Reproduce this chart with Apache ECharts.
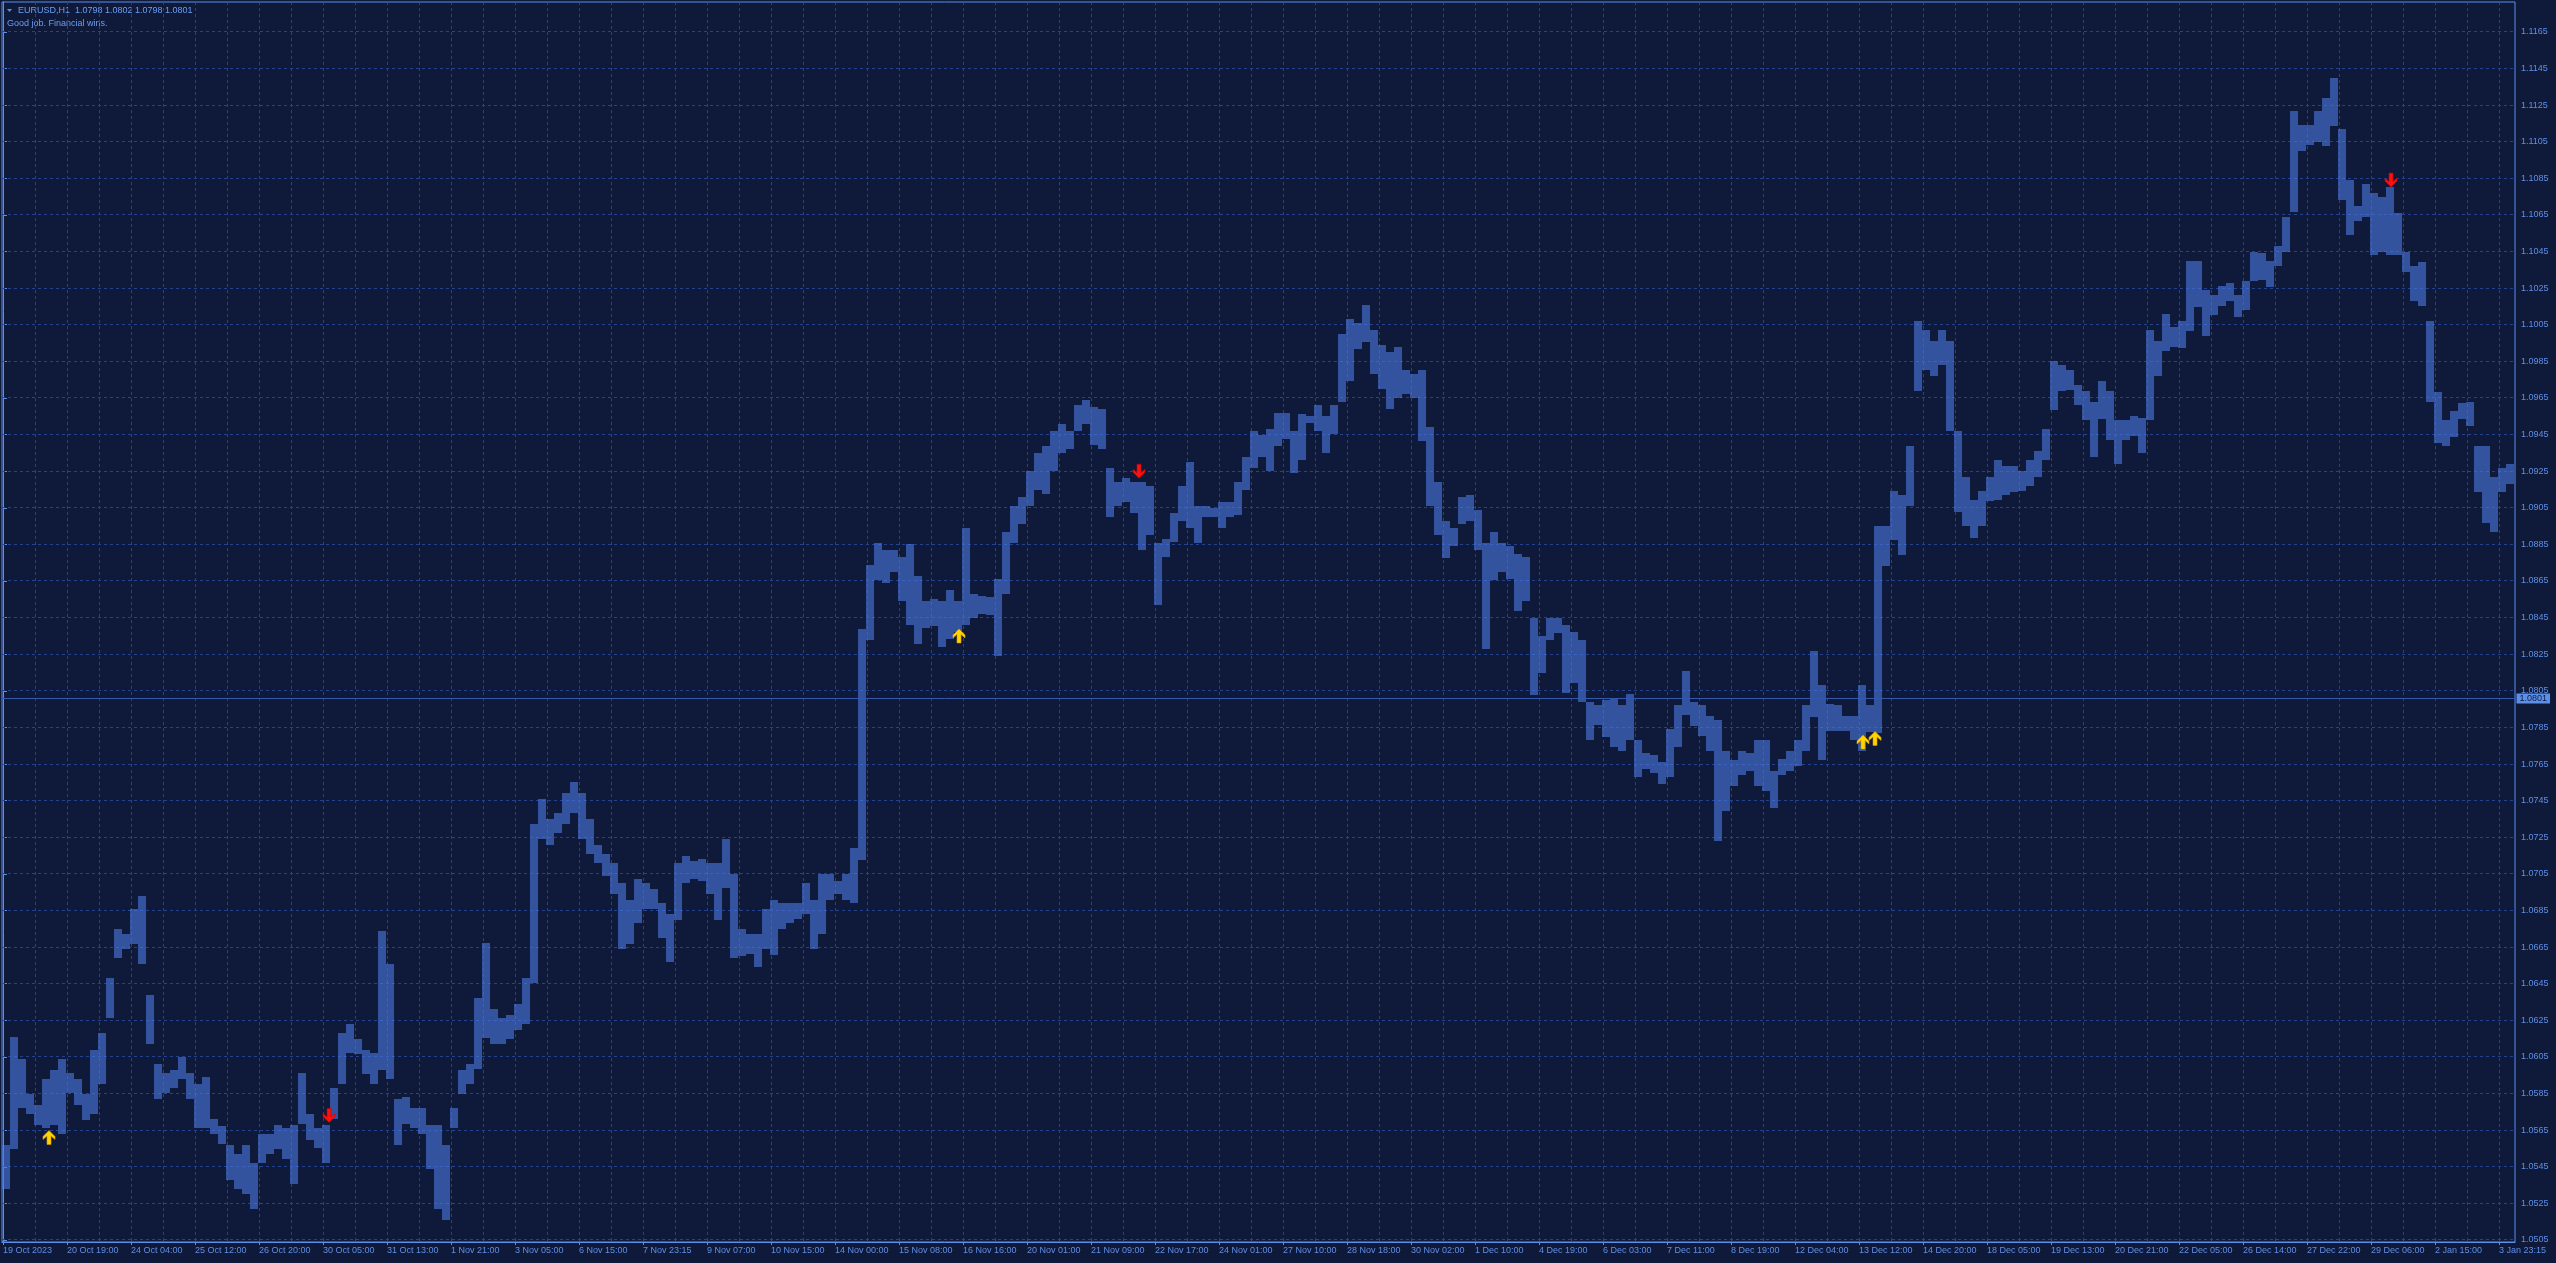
<!DOCTYPE html>
<html>
<head>
<meta charset="utf-8">
<script src="https://cdn.jsdelivr.net/npm/echarts@6/dist/echarts.min.js"></script>
<style>
html,body{margin:0;padding:0;background:#0f1a3a;}
#chart{width:2556px;height:1263px;}
</style>
</head>
<body>
<div id="chart"></div>
<script>
// ---- data (EURUSD H1, each point = 4 hourly bars: high / low) ----
const highs = [
1.0557,1.0616,1.0604,1.0585,1.0579,1.0593,1.0598,1.0604,1.0596,1.0593,
1.0585,1.0609,1.0618,1.0648,1.0675,1.0672,1.0686,1.0693,1.0639,1.0601,
1.0596,1.0598,1.0605,1.0596,1.0590,1.0594,1.0571,1.0567,1.0557,1.0552,
1.0557,1.0547,1.0563,1.0563,1.0568,1.0566,1.0568,1.0596,1.0574,1.0566,
1.0568,1.0588,1.0618,1.0623,1.0615,1.0609,1.0607,1.0674,1.0656,1.0582,
1.0583,1.0577,1.0577,1.0568,1.0568,1.0557,1.0577,1.0598,1.0601,1.0637,
1.0667,1.0631,1.0626,1.0628,1.0634,1.0648,1.0732,1.0746,1.0735,1.0738,
1.0749,1.0755,1.0749,1.0735,1.0721,1.0716,1.0711,1.0700,1.0691,1.0702,
1.0700,1.0697,1.0689,1.0683,1.0711,1.0715,1.0712,1.0713,1.0711,1.0711,
1.0724,1.0705,1.0675,1.0672,1.0672,1.0686,1.0691,1.0689,1.0689,1.0689,
1.0700,1.0691,1.0705,1.0705,1.0701,1.0705,1.0719,
1.0839,1.0874,1.0886,
1.0882,1.0882,1.0878,1.0885,1.0868,1.0854,1.0855,1.0854,1.0860,1.0854,
1.0894,1.0858,1.0857,1.0856,1.0866,1.0892,1.0906,1.0911,1.0925,1.0935,
1.0939,1.0947,1.0951,1.0947,1.0961,1.0964,1.0960,1.0959,1.0927,1.0919,
1.0921,1.0919,1.0919,1.0917,1.0886,1.0888,1.0902,1.0917,1.0930,1.0906,
1.0906,1.0905,1.0908,1.0908,1.0919,1.0933,1.0947,1.0945,1.0948,1.0957,
1.0957,1.0947,1.0956,1.0955,1.0961,1.0955,1.0961,1.1000,1.1008,1.1006,
1.1016,1.1002,1.0994,1.0990,1.0993,1.0980,1.0978,1.0980,1.0949,1.0919,
1.0898,1.0894,1.0911,1.0912,1.0904,1.0886,1.0892,1.0886,1.0884,1.0880,
1.0878,1.0845,1.0835,1.0845,1.0845,1.0841,1.0837,1.0833,1.0799,1.0797,
1.0800,1.0801,1.0797,1.0803,1.0778,1.0771,1.0770,1.0766,1.0784,1.0797,
1.0816,1.0799,1.0797,1.0791,1.0789,1.0772,1.0767,1.0772,1.0771,1.0778,
1.0778,1.0761,1.0768,1.0772,1.0778,1.0797,1.0827,1.0808,1.0798,1.0797,
1.0791,1.0791,1.0808,1.0797,1.0895,1.0895,1.0914,1.0912,1.0939,1.1007,
1.1002,1.0996,1.1002,1.0996,1.0947,1.0922,1.0909,1.0914,1.0922,1.0931,
1.0928,1.0928,1.0925,1.0931,1.0936,1.0948,1.0985,1.0983,1.0980,1.0972,
1.0969,1.0963,1.0974,1.0969,1.0953,1.0953,1.0955,1.0954,1.1002,1.0996,
1.1011,1.1004,1.1007,1.1040,1.1040,1.1024,1.1021,1.1026,1.1028,1.1021,
1.1029,1.1045,1.1044,1.1040,1.1048,1.1064,1.1122,1.1114,1.1114,1.1122,
1.1129,1.1140,1.1112,1.1084,1.1070,1.1082,1.1077,1.1075,1.1080,1.1066,
1.1045,1.1037,1.1039,1.1007,1.0968,1.0953,1.0958,1.0962,1.0963,1.0939,
1.0939,1.0922,1.0927,1.0929
];
const lows = [
1.0533,1.0555,1.0577,1.0574,1.0568,1.0566,1.0568,1.0563,1.0585,1.0579,
1.0571,1.0574,1.0590,1.0626,1.0659,1.0664,1.0667,1.0656,1.0612,1.0582,
1.0585,1.0588,1.0593,1.0582,1.0566,1.0566,1.0563,1.0557,1.0538,1.0533,
1.0530,1.0522,1.0547,1.0552,1.0555,1.0549,1.0536,1.0568,1.0560,1.0555,
1.0547,1.0571,1.0590,1.0607,1.0607,1.0596,1.0590,1.0598,1.0593,1.0557,
1.0568,1.0566,1.0563,1.0544,1.0522,1.0516,1.0566,1.0585,1.0590,1.0598,
1.0615,1.0612,1.0612,1.0615,1.0620,1.0623,1.0645,1.0724,1.0721,1.0727,
1.0732,1.0738,1.0724,1.0716,1.0711,1.0704,1.0694,1.0664,1.0667,1.0678,
1.0686,1.0686,1.0670,1.0657,1.0680,1.0700,1.0702,1.0701,1.0694,1.0680,
1.0697,1.0659,1.0660,1.0661,1.0654,1.0664,1.0661,1.0675,1.0678,1.0680,
1.0683,1.0664,1.0672,1.0691,1.0694,1.0691,1.0689,
1.0713,1.0833,1.0866,
1.0864,1.0870,1.0854,1.0841,1.0831,1.0839,1.0840,1.0829,1.0833,1.0837,
1.0841,1.0845,1.0847,1.0846,1.0824,1.0858,1.0886,1.0896,1.0906,1.0915,
1.0913,1.0925,1.0935,1.0937,1.0947,1.0951,1.0939,1.0937,1.0900,1.0906,
1.0908,1.0902,1.0882,1.0890,1.0852,1.0878,1.0886,1.0898,1.0894,1.0886,
1.0900,1.0900,1.0894,1.0900,1.0901,1.0915,1.0927,1.0933,1.0925,1.0939,
1.0943,1.0924,1.0931,1.0951,1.0947,1.0935,1.0945,1.0963,1.0974,1.0992,
1.0996,1.0978,1.0970,1.0959,1.0965,1.0967,1.0965,1.0941,1.0906,1.0890,
1.0878,1.0884,1.0896,1.0898,1.0882,1.0828,1.0866,1.0870,1.0866,1.0849,
1.0854,1.0803,1.0815,1.0833,1.0837,1.0804,1.0809,1.0799,1.0778,1.0786,
1.0780,1.0774,1.0772,1.0778,1.0758,1.0762,1.0760,1.0754,1.0758,1.0774,
1.0792,1.0786,1.0780,1.0772,1.0723,1.0739,1.0753,1.0759,1.0761,1.0753,
1.0750,1.0741,1.0759,1.0761,1.0764,1.0772,1.0791,1.0767,1.0783,1.0783,
1.0783,1.0778,1.0772,1.0782,1.0782,1.0873,1.0887,1.0879,1.0906,1.0969,
1.0980,1.0977,1.0983,1.0947,1.0903,1.0895,1.0888,1.0895,1.0909,1.0909,
1.0912,1.0914,1.0914,1.0917,1.0922,1.0931,1.0958,1.0969,1.0969,1.0961,
1.0953,1.0933,1.0953,1.0942,1.0929,1.0942,1.0944,1.0935,1.0953,1.0977,
1.0991,1.0993,1.0992,1.1002,1.1015,1.0999,1.1010,1.1015,1.1018,1.1009,
1.1013,1.1029,1.1029,1.1026,1.1037,1.1045,1.1067,1.1100,1.1103,1.1105,
1.1103,1.1114,1.1073,1.1054,1.1062,1.1064,1.1043,1.1045,1.1043,1.1043,
1.1034,1.1018,1.1015,1.0963,1.0940,1.0939,1.0944,1.0953,1.0950,1.0914,
1.0897,1.0892,1.0914,1.0918
];
// signal arrows: [hourly bar index, price]
const arrowsUp = [[23,1.0561],[478,1.0835],[930,1.0777],[936,1.0779]];
const arrowsDown = [[163,1.0573],[568,1.0925],[1194,1.1084]];
// tick labels
const timeLabels = ['19 Oct 2023','20 Oct 19:00','24 Oct 04:00','25 Oct 12:00','26 Oct 20:00','30 Oct 05:00','31 Oct 13:00','1 Nov 21:00','3 Nov 05:00','6 Nov 15:00','7 Nov 23:15','9 Nov 07:00','10 Nov 15:00','14 Nov 00:00','15 Nov 08:00','16 Nov 16:00','20 Nov 01:00','21 Nov 09:00','22 Nov 17:00','24 Nov 01:00','27 Nov 10:00','28 Nov 18:00','30 Nov 02:00','1 Dec 10:00','4 Dec 19:00','6 Dec 03:00','7 Dec 11:00','8 Dec 19:00','12 Dec 04:00','13 Dec 12:00','14 Dec 20:00','18 Dec 05:00','19 Dec 13:00','20 Dec 21:00','22 Dec 05:00','26 Dec 14:00','27 Dec 22:00','29 Dec 06:00','2 Jan 15:00','3 Jan 23:15'];
const priceTicks = [1.0505,1.0525,1.0545,1.0565,1.0585,1.0605,1.0625,1.0645,1.0665,1.0685,1.0705,1.0725,1.0745,1.0765,1.0785,1.0805,1.0825,1.0845,1.0865,1.0885,1.0905,1.0925,1.0945,1.0965,1.0985,1.1005,1.1025,1.1045,1.1065,1.1085,1.1105,1.1125,1.1145,1.1165];
const lastPrice = 1.0801;
const header = 'EURUSD,H1  1.0798 1.0802 1.0798 1.0801';
const subtitle = 'Good job. Financial wins.';

// ---- styles ----
const BG = '#0f1a3a', GRID = '#24428e', AXIS = '#5b8fe8', TXT = '#5f8fe8', BAR = 'rgba(76,122,226,0.6)';
const FONT = '"Liberation Sans", Arial, sans-serif';
const BARS_PER_POINT = 4, BARS_PER_LABEL = 32, BARS_PER_VGRID = 16;

const barData = highs.map((h, i) => [i * BARS_PER_POINT + (BARS_PER_POINT - 1) / 2, lows[i], h]);
const labelBars = timeLabels.map((_, k) => k * BARS_PER_LABEL);
const vGrid = [];
for (let b = BARS_PER_VGRID; b <= labelBars[labelBars.length - 1]; b += BARS_PER_VGRID) vGrid.push(b);
const X_MIN = -0.5, X_MAX = 1256, Y_MIN = 1.05039, Y_MAX = 1.11813;

const chart = echarts.init(document.getElementById('chart'), null, {renderer: 'canvas'});
const crisp = v => Math.round(v - 0.5) + 0.5;
const option = {
  backgroundColor: BG,
  animation: false,
  grid: {left: 2, top: 2, width: 2513, height: 1240, show: true, borderColor: AXIS, borderWidth: 1},
  xAxis: {
    type: 'value', min: X_MIN, max: X_MAX,
    axisLine: {show: true, lineStyle: {color: AXIS}},
    axisTick: {show: true, customValues: labelBars, length: 3, lineStyle: {color: AXIS}},
    axisLabel: {customValues: labelBars, formatter: v => timeLabels[Math.round(v / BARS_PER_LABEL)],
      color: TXT, fontSize: 9, fontFamily: FONT, align: 'left', margin: 4},
    splitLine: {show: false}
  },
  yAxis: {
    type: 'value', position: 'right', min: Y_MIN, max: Y_MAX,
    axisLine: {show: true, lineStyle: {color: AXIS}},
    axisTick: {show: true, customValues: priceTicks, length: 4, lineStyle: {color: AXIS}},
    axisLabel: {customValues: priceTicks, formatter: v => v.toFixed(4), color: TXT, fontSize: 9, fontFamily: FONT, margin: 6},
    splitLine: {show: false}
  },
  graphic: [
    {type: 'polygon', shape: {points: [[7, 9], [12, 9], [9.5, 12]]}, style: {fill: TXT}},
    {type: 'text', left: 18, top: 6, style: {text: header, fill: '#6d9df2', font: '9px ' + FONT}},
    {type: 'text', left: 7, top: 19, style: {text: subtitle, fill: '#6d9df2', font: '9px ' + FONT}}
  ],
  series: [
    { // horizontal dashed grid at price ticks
      type: 'custom', z: 1, silent: true,
      data: priceTicks.map(v => [v]), encode: {y: 0},
      renderItem: function (params, api) {
        const cs = params.coordSys;
        const y = crisp(api.coord([X_MIN, api.value(0)])[1]);
        return {type: 'line', shape: {x1: cs.x, y1: y, x2: cs.x + cs.width, y2: y},
          style: {stroke: GRID, lineWidth: 1, lineDash: [3, 3]}};
      }
    },
    { // vertical dashed grid
      type: 'custom', z: 1, silent: true,
      data: vGrid.map(b => [b]), encode: {x: 0},
      renderItem: function (params, api) {
        const cs = params.coordSys;
        const x = crisp(api.coord([api.value(0), Y_MIN])[0]);
        return {type: 'line', shape: {x1: x, y1: cs.y, x2: x, y2: cs.y + cs.height},
          style: {stroke: GRID, lineWidth: 1, lineDash: [3, 3]}};
      }
    },
    { // price bars
      type: 'custom', z: 2,
      data: barData,
      encode: {x: 0, y: [1, 2]},
      renderItem: function (params, api) {
        const x = api.value(0), lo = api.value(1), hi = api.value(2);
        const pHi = api.coord([x, hi]);
        const pLo = api.coord([x, lo]);
        const w = api.size([BARS_PER_POINT, 0])[0];
        const x0 = Math.round(pHi[0] - w / 2);
        return {type: 'rect', shape: {x: x0, y: Math.round(pHi[1]), width: Math.round(w), height: Math.max(1, Math.round(pLo[1] - pHi[1]))},
          style: {fill: BAR}};
      }
    },
    { // current price line and label
      type: 'custom', z: 3, silent: true,
      data: [[lastPrice]], encode: {y: 0},
      renderItem: function (params, api) {
        const cs = params.coordSys;
        const v = api.value(0);
        const y = crisp(api.coord([X_MIN, v])[1]);
        return {type: 'group', children: [
          {type: 'line', shape: {x1: cs.x, y1: y, x2: cs.x + cs.width, y2: y}, style: {stroke: '#3259ad', lineWidth: 1}},
          {type: 'text', x: cs.x + cs.width + 1.5, y: y, style: {text: v.toFixed(4), fill: BG, backgroundColor: AXIS,
            padding: [1, 3, 0, 3], font: '9px ' + FONT, verticalAlign: 'middle', align: 'left'}}
        ]};
      }
    },
    {
      type: 'scatter', z: 5, silent: true, data: arrowsUp,
      symbol: 'path://M6,0L12,6L12,9L8,5.5L8,14L4,14L4,5.5L0,9L0,6Z', symbolSize: [12, 14],
      itemStyle: {color: '#ffd400', borderColor: '#d99a00', borderWidth: 0.6, opacity: 1}
    },
    {
      type: 'scatter', z: 5, silent: true, data: arrowsDown,
      symbol: 'path://M6,14L12,8L12,5L8,8.5L8,0L4,0L4,8.5L0,5L0,8Z', symbolSize: [12, 14],
      itemStyle: {color: '#ff1010', borderColor: '#c00000', borderWidth: 0.6, opacity: 1}
    }
  ]
};
chart.setOption(option);
</script>
</body>
</html>
